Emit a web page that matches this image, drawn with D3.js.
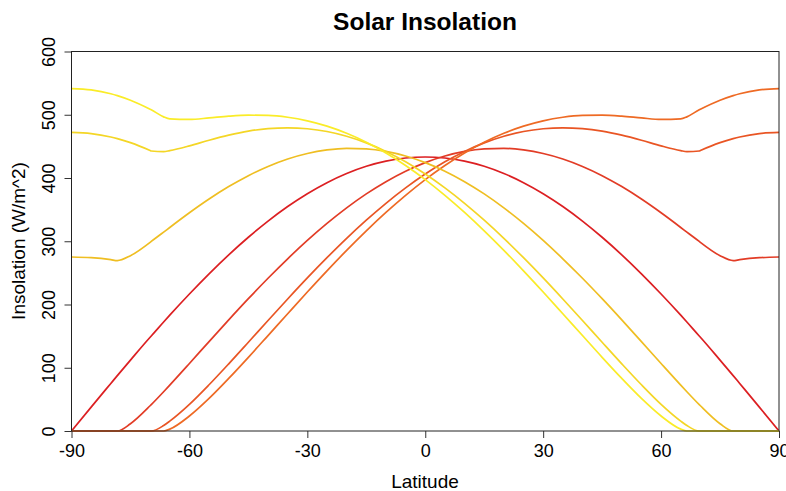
<!DOCTYPE html>
<html>
<head>
<meta charset="utf-8">
<script src="https://cdn.jsdelivr.net/npm/d3@7"></script>
<style>
  html, body { margin: 0; padding: 0; background: #fff; }
  svg { display: block; font-family: "Liberation Sans", Arial, Helvetica, sans-serif; }
</style>
</head>
<body>
<svg id="chart" width="786" height="491"></svg>
<script>
// Latitude grid (degrees)
const latitudes = [-90,-85,-80,-78.34,-75,-70,-69.71,-66.56,-65,-60,-55,-50,-45,-40,-35,-30,-25,-20,-15,-10,-5,0,
  5,10,15,20,25,30,35,40,45,50,55,60,65,66.56,69.71,70,75,78.34,80,85,90];

// Daily mean insolation (W/m^2) read per series
const eqx = [0,37.8,75.2,87.6,112.1,148.2,150.2,172.3,183.1,216.6,248.5,278.5,306.3,331.9,354.9,375.2,392.6,407.1,418.5,426.6,431.6,433.2,
  431.6,426.6,418.5,407.1,392.6,375.2,354.9,331.9,306.3,278.5,248.5,216.6,183.1,172.3,150.2,148.2,112.1,87.6,75.2,37.8,0];
const north12 = [0,0,0,0,11.5,39.9,41.7,62.1,72.5,106.7,141.4,175.7,209.2,241.5,272.3,301.3,328.2,352.8,374.9,394.2,410.8,424.3,
  434.7,442.0,446.0,446.9,444.4,438.8,430.1,418.3,403.7,386.4,366.7,345.0,321.8,314.4,299.7,298.3,277.2,269.4,270.9,274.0,275.1];
const north20 = [0,0,0,0,0,0,0,8.7,15.6,42.1,73.1,106.2,140.3,174.7,208.7,242.0,274.0,304.6,333.3,360.0,384.4,406.3,
  425.6,442.0,455.5,466.0,473.5,477.9,479.4,478.1,474.1,467.7,459.7,450.8,443.3,441.7,442.7,443.5,455.9,462.2,464.8,470.2,472.0];
const north23 = [0,0,0,0,0,0,0,0,2.9,23.7,51.5,83.1,116.5,150.9,185.4,219.7,253.2,285.6,316.5,345.6,372.6,397.5,
  419.8,439.6,456.6,470.7,482.0,490.4,496.0,498.9,499.3,497.8,495.0,492.6,493.6,496.7,507.8,508.7,522.9,530.2,533.2,539.3,541.4];
const south12 = [275.1,274.0,270.9,269.4,277.2,298.3,299.7,314.4,321.8,345.0,366.7,386.4,403.7,418.3,430.1,438.8,444.4,446.9,446.0,442.0,434.7,424.3,
  410.8,394.2,374.9,352.8,328.2,301.3,272.3,241.5,209.2,175.7,141.4,106.7,72.5,62.1,41.7,39.9,11.5,0,0,0,0];
const south20 = [472.0,470.2,464.8,462.2,455.9,443.5,442.7,441.7,443.3,450.8,459.7,467.7,474.1,478.1,479.4,477.9,473.5,466.0,455.5,442.0,425.6,406.3,
  384.4,360.0,333.3,304.6,274.0,242.0,208.7,174.7,140.3,106.2,73.1,42.1,15.6,8.7,0,0,0,0,0,0,0];
const south23 = [541.4,539.3,533.2,530.2,522.9,508.7,507.8,496.7,493.6,492.6,495.0,497.8,499.3,498.9,496.0,490.4,482.0,470.7,456.6,439.6,419.8,397.5,
  372.6,345.6,316.5,285.6,253.2,219.7,185.4,150.9,116.5,83.1,51.5,23.7,2.9,0,0,0,0,0,0,0,0];

const seriesNames = ["south23","south20","south12","eqx","north12","north20","north23"];
const seriesValues = [south23, south20, south12, eqx, north12, north20, north23];
const seriesColors = ["#FAEC28","#F4D626","#EFBE22","#DC1F22","#E23C26","#E95524","#EE6A24"];

const xTicks = [-90,-60,-30,0,30,60,90];
const yTicks = [0,100,200,300,400,500,600];
const xTickLabels = ["-90","-60","-30","0","30","60","90"];
const yTickLabels = ["0","100","200","300","400","500","600"];

const svg = d3.select("#chart");
const x = d3.scaleLinear().domain([-90, 90]).range([71.5, 779]);
const y = d3.scaleLinear().domain([0, 600]).range([431, 51.5]);

// Lines
const line = d3.line()
  .x(d => x(d[0]))
  .y(d => y(d[1]))
  .curve(d3.curveMonotoneX);

const drawOrder = [3,4,5,6,2,1,0];
drawOrder.forEach(i => {
  const pts = latitudes.map((lat, j) => [lat, seriesValues[i][j]]);
  svg.append("path")
    .attr("class", "series " + seriesNames[i])
    .attr("d", line(pts))
    .attr("fill", "none")
    .attr("stroke", seriesColors[i])
    .attr("stroke-width", 1.7)
    .attr("stroke-linejoin", "round");
});

// Axes
const xAxis = d3.axisBottom(x).tickValues(xTicks).tickSize(7).tickPadding(4)
  .tickFormat((d, i) => xTickLabels[i]);
const yAxis = d3.axisLeft(y).tickValues(yTicks).tickSize(7).tickPadding(4)
  .tickFormat((d, i) => yTickLabels[i]);

const gx = svg.append("g").attr("transform", "translate(0,431)").call(xAxis);
const gy = svg.append("g").attr("transform", "translate(71.5,0)").call(yAxis);

[gx, gy].forEach(g => {
  g.select(".domain").remove();
  g.selectAll(".tick line").attr("stroke", "#333").attr("stroke-width", 1);
  g.selectAll(".tick text").attr("fill", "#000").style("font-size", "18px")
    .style("font-family", "'Liberation Sans', Arial, sans-serif");
});
gx.selectAll(".tick text").attr("dy", "0.85em");
gy.selectAll(".tick text")
  .attr("text-anchor", "middle")
  .attr("x", null).attr("dy", null)
  .attr("transform", "translate(-17,0) rotate(-90)");

// Plot box
svg.append("rect")
  .attr("x", 71.5).attr("y", 51.5)
  .attr("width", 779 - 71.5).attr("height", 431 - 51.5)
  .attr("fill", "none").attr("stroke", "#222").attr("stroke-width", 1);

// Titles
svg.append("text")
  .attr("x", 425).attr("y", 29.5)
  .attr("text-anchor", "middle")
  .style("font-size", "24.5px").style("font-weight", "bold")
  .text("Solar Insolation");

svg.append("text")
  .attr("x", 425).attr("y", 488)
  .attr("text-anchor", "middle")
  .style("font-size", "19px")
  .text("Latitude");

svg.append("text")
  .attr("transform", "translate(25,241) rotate(-90)")
  .attr("text-anchor", "middle")
  .style("font-size", "19px")
  .text("Insolation (W/m^2)");
</script>
</body>
</html>
